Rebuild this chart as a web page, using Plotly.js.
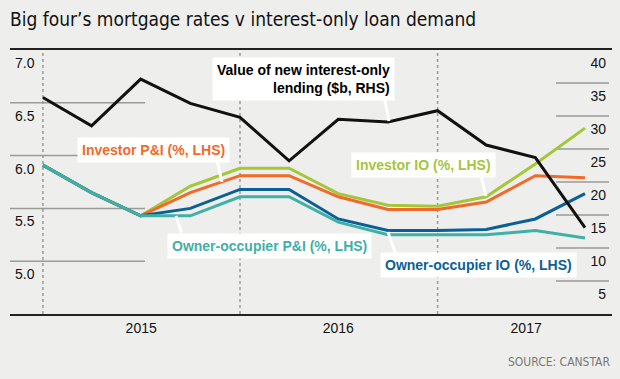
<!DOCTYPE html>
<html>
<head>
<meta charset="utf-8">
<script src="https://cdn.plot.ly/plotly-3.0.1.min.js"></script>
<style>html,body{margin:0;padding:0;background:#eeefed;}#chart{width:620px;height:379px;}</style>
</head>
<body>
<div id="chart"></div>
<script>
// ---- data ----
const quarters = ['2015-01-01','2015-04-01','2015-07-01','2015-10-01','2016-01-01','2016-04-01','2016-07-01','2016-10-01','2017-01-01','2017-04-01','2017-07-01','2017-10-01'];
const ioLending  = [32.8, 28.5, 35.6, 31.9, 29.8, 23.2, 29.5, 29.1, 30.8, 25.6, 23.7, 13.1]; // $b, RHS
const investorIO = [5.91, 5.65, 5.43, 5.71, 5.88, 5.88, 5.64, 5.53, 5.52, 5.61, 5.92, 6.26];
const investorPI = [5.91, 5.65, 5.43, 5.65, 5.81, 5.81, 5.61, 5.49, 5.49, 5.56, 5.81, 5.79];
const ownerIO    = [5.91, 5.65, 5.43, 5.50, 5.68, 5.68, 5.40, 5.29, 5.29, 5.30, 5.40, 5.64];
const ownerPI    = [5.91, 5.65, 5.43, 5.43, 5.61, 5.61, 5.37, 5.25, 5.25, 5.25, 5.29, 5.22];
const seriesNames = ['Investor IO (%, LHS)', 'Investor P&I (%, LHS)', 'Owner-occupier IO (%, LHS)', 'Owner-occupier P&I (%, LHS)', 'Value of new interest-only<br>lending ($b, RHS)'];
const yearLabels = ['2015', '2016', '2017'];
const yearBoundaries = ['2015-01-01', '2016-01-01', '2017-01-01'];
const leftTicks = [7.0, 6.5, 6.0, 5.5, 5.0];
const leftTickText = ['7.0', '6.5', '6.0', '5.5', '5.0'];
const rightTicks = [40, 35, 30, 25, 20, 15, 10, 5];
const rightTickText = ['40', '35', '30', '25', '20', '15', '10', '5'];
const titleText = 'Big four’s mortgage rates v interest-only loan demand';
const sourceText = 'SOURCE: CANSTAR';

// ---- styling ----
const C = {green:'#a5c63b', orange:'#f26a2a', blue:'#0b5f97', teal:'#3fb0a6', black:'#111111'};
const W = 620, H = 379, L = 10, R = 8, T = 50, B = 65;
const pw = W - L - R, ph = H - T - B;
const px = x => (x - L) / pw;
const py = y => (H - B - y) / ph;
const NARROW = '"Liberation Sans Narrow", "DejaVu Sans Condensed", "Arial Narrow", sans-serif';
const SANS = '"Liberation Sans", Arial, sans-serif';

function line(y, color, name, axis) {
  return {x: quarters, y: y, type: 'scatter', mode: 'lines', name: name, yaxis: axis,
          line: {color: color, width: 3}, hoverinfo: 'skip'};
}
const traces = [
  line(investorIO, C.green, seriesNames[0], 'y'),
  line(investorPI, C.orange, seriesNames[1], 'y'),
  line(ownerIO, C.blue, seriesNames[2], 'y'),
  line(ownerPI, C.teal, seriesNames[3], 'y'),
  line(ioLending, C.black, seriesNames[4], 'y2')
];

const shapes = [];
yearBoundaries.forEach(d => shapes.push({type:'line', xref:'x', yref:'paper', x0:d, x1:d, y0:0, y1:1,
  line:{color:'#9a9a9a', width:1.5, dash:'dot'}, layer:'below'}));
leftTicks.slice(1).forEach(v => shapes.push({type:'line', xref:'paper', yref:'y', x0:0, x1:px(145), y0:v, y1:v,
  line:{color:'#9a9a9a', width:1.5}, layer:'below'}));
rightTicks.slice(1).forEach(v => shapes.push({type:'line', xref:'paper', yref:'y2', x0:px(556), x1:px(609), y0:v, y1:v,
  line:{color:'#9a9a9a', width:1.5}, layer:'below'}));

function pointer(tipX, tipY, baseX, baseY) {
  return {xref:'paper', yref:'paper', x:px(tipX), y:py(tipY), ax:baseX - tipX, ay:baseY - tipY,
          text:'', showarrow:true, arrowhead:0, arrowwidth:3, arrowcolor:'#ffffff', standoff:0, startstandoff:0};
}
function label(text, cx, cy, color, align) {
  return {xref:'paper', yref:'paper', x:px(cx), y:py(cy), xanchor:'center', yanchor:'middle',
          text:'<b>' + text + '</b>', showarrow:false, bgcolor:'#ffffff', borderpad:4, align: align || 'center',
          font:{family:SANS, size:14, color:color}};
}
const annotations = [
  pointer(389, 121, 384, 96),
  pointer(222, 182, 217, 160),
  pointer(486, 196, 481, 175),
  pointer(176, 216, 182, 234),
  pointer(388, 232, 396, 255),
  label(seriesNames[4], 303.5, 79, '#000000', 'right'),
  label(seriesNames[1], 153.5, 150, C.orange),
  label(seriesNames[0], 423, 165, C.green),
  label(seriesNames[3], 269.5, 246, C.teal),
  label(seriesNames[2], 478, 264.5, C.blue),
  {xref:'paper', yref:'paper', x:1, y:py(362), xanchor:'right', yanchor:'middle', showarrow:false,
   text:sourceText, font:{family:NARROW, size:12, color:'#777777'}}
];

const layout = {
  width: W, height: H,
  margin: {l:L, r:R, t:T, b:B, pad:0},
  paper_bgcolor: '#eeefed', plot_bgcolor: '#eeefed',
  showlegend: false,
  title: {text: titleText, x: L / W, xanchor: 'left', xref: 'container', y: 1 - 19 / H, yanchor: 'middle',
          font: {family: NARROW, size: 19, color: '#111111'}},
  xaxis: {type:'date', range:['2014-11-01','2017-11-20'], showgrid:false, zeroline:false,
          showline:true, mirror:true, linecolor:'#222222', linewidth:2,
          tickmode:'array', tickvals:['2015-07-02','2016-07-01','2017-06-14'], ticktext:yearLabels,
          ticks:'', tickfont:{family:SANS, size:14, color:'#111111'}, fixedrange:true},
  yaxis: {range:[4.5, 7.0], showgrid:false, zeroline:false, showline:false,
          tickmode:'array', tickvals:leftTicks, ticktext:leftTickText, ticks:'',
          ticklabelposition:'inside', ticklabelshift:13, ticklabelstandoff:2,
          tickfont:{family:SANS, size:14, color:'#111111'}},
  yaxis2: {range:[0, 40], overlaying:'y', side:'right', showgrid:false, zeroline:false, showline:false,
          tickmode:'array', tickvals:rightTicks, ticktext:rightTickText, ticks:'',
          ticklabelposition:'inside', ticklabelshift:13, ticklabelstandoff:3,
          tickfont:{family:SANS, size:14, color:'#111111'}},
  shapes: shapes,
  annotations: annotations
};

Plotly.newPlot('chart', traces, layout, {displayModeBar:false, staticPlot:true});
</script>
</body>
</html>
